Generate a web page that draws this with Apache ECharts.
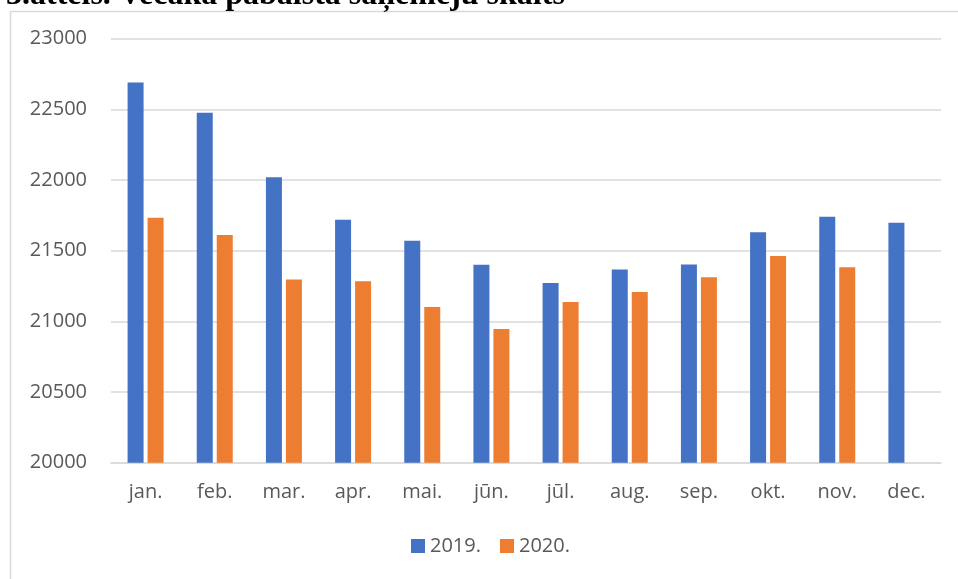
<!DOCTYPE html>
<html>
<head>
<meta charset="utf-8">
<script src="https://cdn.jsdelivr.net/npm/echarts@6/dist/echarts.min.js"></script>
<style>
html,body{margin:0;padding:0;background:#fff;}
#c{width:958px;height:579px;}
</style>
</head>
<body>
<div id="c"></div>
<script>
const categories = ['jan.', 'feb.', 'mar.', 'apr.', 'mai.', 'jūn.', 'jūl.', 'aug.', 'sep.', 'okt.', 'nov.', 'dec.'];
const values2019 = [22690, 22475, 22020, 21718, 21570, 21400, 21272, 21366, 21402, 21630, 21740, 21697];
const values2020 = [21732, 21610, 21296, 21284, 21101, 20946, 21136, 21208, 21312, 21463, 21383, null];
const seriesNames = ['2019.', '2020.'];
const titleText = '3.attēls. Vecāka pabalsta saņēmēju skaits';

const chart = echarts.init(document.getElementById('c'), null, {renderer: 'canvas'});
const font = '"Open Sans", sans-serif';
chart.setOption({
  animation: false,
  backgroundColor: '#fff',
  graphic: [
    {type: 'rect', shape: {x: 10.5, y: 11.5, width: 1200, height: 1000}, style: {fill: 'none', stroke: '#d9d9d9', lineWidth: 1.5}, z: 0},
    {type: 'text', left: 6, top: -20, style: {text: titleText, font: 'bold 32px "Liberation Serif", serif', fill: '#000'}, z: 10}
  ],
  grid: {left: 111, right: 17, top: 38.6, bottom: 116.3},
  legend: {
    bottom: 18, left: 406,
    itemWidth: 14, itemHeight: 14, itemGap: 19,
    icon: 'rect',
    textStyle: {fontFamily: font, fontSize: 20, color: '#595959'},
    data: seriesNames
  },
  xAxis: {
    type: 'category', data: categories,
    axisLine: {lineStyle: {color: '#d9d9d9', width: 1.5}},
    axisTick: {show: false},
    axisLabel: {fontFamily: font, fontSize: 20, color: '#595959', margin: 20}
  },
  yAxis: {
    type: 'value', min: 20000, max: 23000, interval: 500,
    axisLine: {show: false}, axisTick: {show: false},
    splitLine: {lineStyle: {color: '#d9d9d9', width: 1.5}},
    axisLabel: {fontFamily: font, fontSize: 20, color: '#595959', margin: 24, formatter: v => String(v)}
  },
  series: [
    {name: seriesNames[0], type: 'bar', data: values2019, barWidth: 16, barGap: '25%', itemStyle: {color: '#4472c4'}},
    {name: seriesNames[1], type: 'bar', data: values2020, barWidth: 16, barGap: '25%', itemStyle: {color: '#ed7d31'}}
  ]
});
</script>
</body>
</html>
